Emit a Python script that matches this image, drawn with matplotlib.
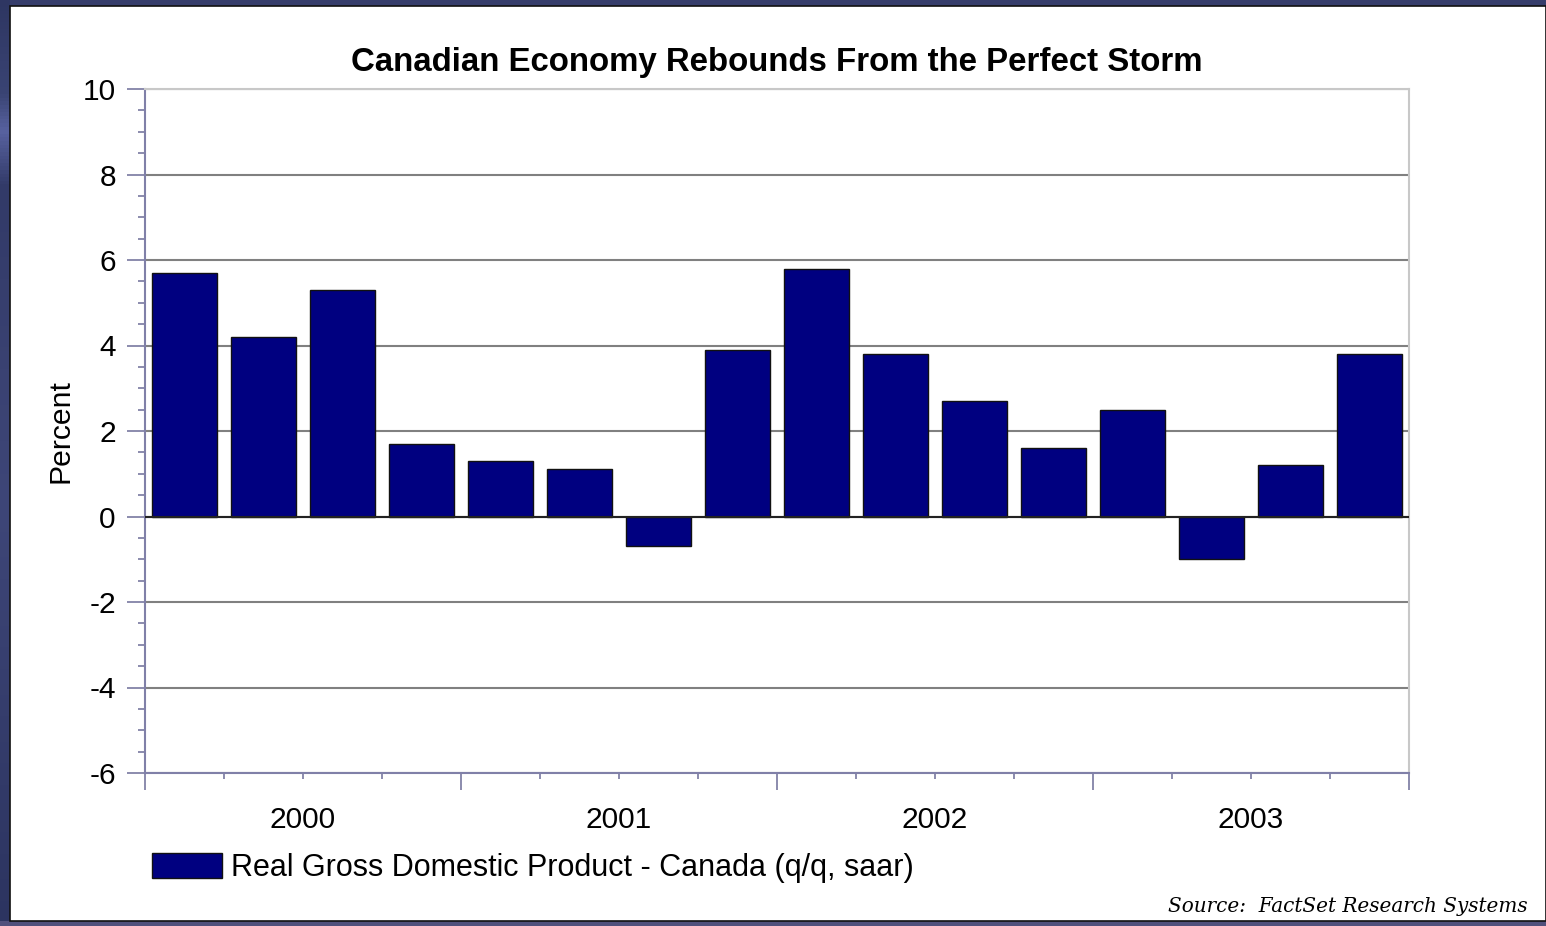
import matplotlib
matplotlib.use('Agg')
import matplotlib.pyplot as plt
from matplotlib.colors import LinearSegmentedColormap
from matplotlib.patches import Rectangle
from matplotlib.ticker import MultipleLocator, FixedLocator
import numpy as np

# Croissance trimestrielle du PIB réel canadien (% annualisé)
trimestres = ['T1 2000', 'T2 2000', 'T3 2000', 'T4 2000',
              'T1 2001', 'T2 2001', 'T3 2001', 'T4 2001',
              'T1 2002', 'T2 2002', 'T3 2002', 'T4 2002',
              'T1 2003', 'T2 2003', 'T3 2003', 'T4 2003']
pib = [5.7, 4.2, 5.3, 1.7, 1.3, 1.1, -0.7, 3.9,
       5.8, 3.8, 2.7, 1.6, 2.5, -1.0, 1.2, 3.8]
annees = ['2000', '2001', '2002', '2003']

plt.rcParams['font.family'] = ['Liberation Sans', 'DejaVu Sans']
plt.rcParams['axes.unicode_minus'] = False

W, H = 1546, 926
fig = plt.figure(figsize=(W / 100, H / 100), dpi=100)
fig.patch.set_facecolor('#363d6b')

# cadre bleu : dégradé vertical sur le bord gauche
fond = fig.add_axes([0, 0, 1, 1], zorder=-10)
fond.axis('off')
degrade = LinearSegmentedColormap.from_list(
    'cadre', [(0, '#2c3460'), (0.45, '#3e4678'), (0.6, '#3a4272'),
              (0.8, '#323a68'), (0.86, '#5862a0'), (0.9, '#3a4474'), (1, '#2e3662')])
fond.imshow(np.linspace(0, 1, 256).reshape(-1, 1), cmap=degrade, aspect='auto',
            extent=[0, 10 / W, 0, 1], origin='lower')
fond.add_patch(Rectangle((0, 0), 1, 5 / H, facecolor='#50507c', edgecolor='none'))
fond.add_patch(Rectangle((10 / W, 5 / H), 1 - 10 / W, 1 - 11 / H,
                         facecolor='white', edgecolor='#111111', linewidth=1.2))
fond.set_xlim(0, 1)
fond.set_ylim(0, 1)

ax = fig.add_axes([145 / W, (H - 773) / H, 1264 / W, 684 / H])
ax.set_facecolor('white')

x = np.arange(len(pib))
ax.bar(x, pib, width=0.83, color='#000080', edgecolor='#111111',
       linewidth=1, zorder=3, label='Real Gross Domestic Product - Canada (q/q, saar)')

ax.set_xlim(-0.5, len(pib) - 0.5)
ax.set_ylim(-6, 10)

# axe y
ax.yaxis.set_major_locator(MultipleLocator(2))
ax.yaxis.set_minor_locator(MultipleLocator(0.5))
ax.grid(axis='y', which='major', color='#808080', linewidth=1.5, zorder=1)
ax.axhline(0, color='#222222', linewidth=1.5, zorder=4)
ax.tick_params(axis='y', which='major', direction='out', length=13, width=1.2,
               color='#7878a0', labelsize=21.5, pad=8)
ax.tick_params(axis='y', which='minor', direction='out', length=5, width=1.2,
               color='#7878a0')

# axe x : grandes graduations aux années, petites aux trimestres
ax.xaxis.set_major_locator(FixedLocator(np.arange(-0.5, len(pib), 4)))
ax.xaxis.set_minor_locator(FixedLocator(np.arange(-0.5, len(pib), 1)))
ax.tick_params(axis='x', which='major', direction='out', length=12, width=1.2,
               color='#7878a0', labelbottom=False)
ax.tick_params(axis='x', which='minor', direction='out', length=4, width=1.2,
               color='#7878a0')
for i, a in enumerate(annees):
    ax.text(4 * i + 1.5, -0.068, a, transform=ax.get_xaxis_transform(),
            ha='center', va='center', fontsize=21.5)

for cote in ['left', 'bottom']:
    ax.spines[cote].set_color('#8080a8')
    ax.spines[cote].set_linewidth(1.5)
for cote in ['top', 'right']:
    ax.spines[cote].set_color('#c8c8c8')
    ax.spines[cote].set_linewidth(1.5)

ax.set_ylabel('Percent', fontsize=21.7)
ax.yaxis.set_label_coords(-0.056, 0.5)

fig.text(777 / W, (H - 63) / H, 'Canadian Economy Rebounds From the Perfect Storm',
         ha='center', va='center', fontsize=23.8, fontweight='bold')

ax.legend(loc='center left', bbox_to_anchor=(152 / W, (H - 868) / H),
          bbox_transform=fig.transFigure, frameon=False, fontsize=22,
          borderaxespad=0, borderpad=0, handlelength=2.3, handleheight=0.85,
          handletextpad=0.3)

fig.text(1528 / W, (H - 906) / H, 'Source:  FactSet Research Systems',
         ha='right', va='center', fontsize=14.4, fontstyle='italic',
         family='DejaVu Serif')

fig.savefig('out.png', dpi=100, facecolor=fig.get_facecolor())
